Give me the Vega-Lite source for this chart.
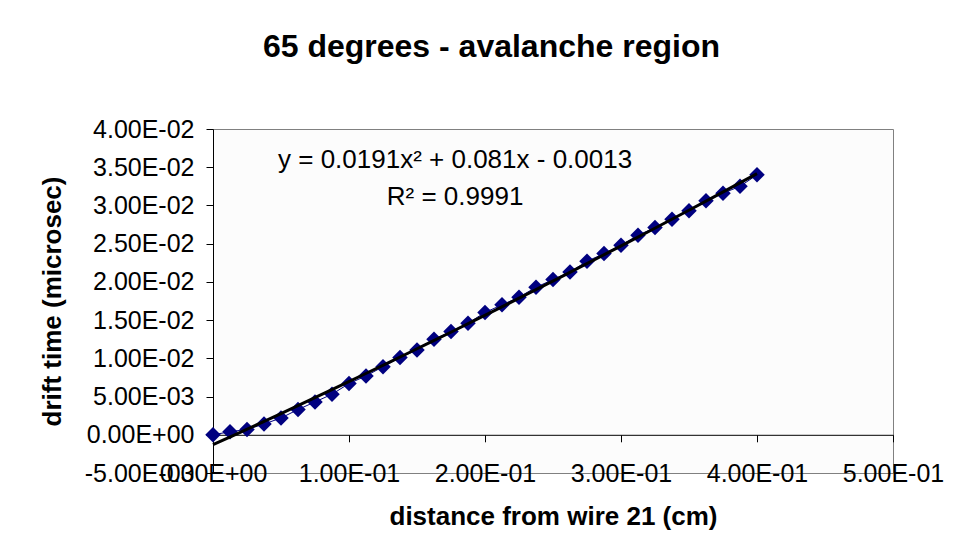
{
  "$schema": "https://vega.github.io/schema/vega-lite/v6.json",
  "autosize": "none",
  "width": 680,
  "height": 344,
  "padding": {"left": 213, "top": 129, "right": 67, "bottom": 85},
  "background": "white",
  "config": {
    "font": "Liberation Sans",
    "view": {"stroke": "#808080", "strokeWidth": 1, "fill": "#fcfcfc"},
    "axis": {
      "grid": false,
      "domainColor": "black",
      "domainWidth": 1,
      "tickColor": "black",
      "tickWidth": 1,
      "tickSize": 7,
      "labelFontSize": 25,
      "labelColor": "black",
      "labelFlush": false,
      "labelOverlap": false,
      "labelBound": false,
      "titleFontSize": 26,
      "titleFontWeight": "bold",
      "titleColor": "black"
    }
  },
  "title": {
    "text": "65 degrees - avalanche region",
    "fontSize": 32,
    "fontWeight": "bold",
    "font": "Liberation Sans",
    "color": "black",
    "anchor": "middle",
    "frame": "bounds",
    "offset": 53
  },
  "data": {
    "values": [
      {"x": 0, "y": 0},
      {"x": 0.0125, "y": 0.0004},
      {"x": 0.025, "y": 0.0007},
      {"x": 0.0375, "y": 0.0014},
      {"x": 0.05, "y": 0.0022},
      {"x": 0.0625, "y": 0.0033},
      {"x": 0.075, "y": 0.0043},
      {"x": 0.0875, "y": 0.0053},
      {"x": 0.1, "y": 0.0067},
      {"x": 0.1125, "y": 0.0077},
      {"x": 0.125, "y": 0.0089},
      {"x": 0.1375, "y": 0.0101},
      {"x": 0.15, "y": 0.0111},
      {"x": 0.1625, "y": 0.0125},
      {"x": 0.175, "y": 0.0135},
      {"x": 0.1875, "y": 0.0146},
      {"x": 0.2, "y": 0.016},
      {"x": 0.2125, "y": 0.017},
      {"x": 0.225, "y": 0.018},
      {"x": 0.2375, "y": 0.0193},
      {"x": 0.25, "y": 0.0203},
      {"x": 0.2625, "y": 0.0213},
      {"x": 0.275, "y": 0.0227},
      {"x": 0.2875, "y": 0.0237},
      {"x": 0.3, "y": 0.0248},
      {"x": 0.3125, "y": 0.0261},
      {"x": 0.325, "y": 0.0271},
      {"x": 0.3375, "y": 0.0282},
      {"x": 0.35, "y": 0.0293},
      {"x": 0.3625, "y": 0.0306},
      {"x": 0.375, "y": 0.0316},
      {"x": 0.3875, "y": 0.0325},
      {"x": 0.4, "y": 0.034}
    ]
  },
  "encoding": {
    "x": {
      "field": "x",
      "type": "quantitative",
      "scale": {"domain": [0, 0.5], "nice": false, "zero": false},
      "axis": {
        "values": [0, 0.1, 0.2, 0.3, 0.4, 0.5],
        "title": "distance from wire 21 (cm)",
        "offset": -38.2,
        "labelPadding": 20,
        "labelOverlap": false,
        "labelExpr": "replace(replace(replace(replace(format(datum.value,'.2e'),'\u2212','-'),'\u2212','-'),'e-','E-0'),'e+','E+0')",
        "titlePadding": 17
      }
    },
    "y": {
      "field": "y",
      "type": "quantitative",
      "scale": {"domain": [-0.005, 0.04], "nice": false, "zero": false},
      "axis": {
        "values": [-0.005, 0, 0.005, 0.01, 0.015, 0.02, 0.025, 0.03, 0.035, 0.04],
        "title": "drift time (microsec)",
        "labelPadding": 12,
        "labelOverlap": false,
        "labelExpr": "replace(replace(replace(replace(format(datum.value,'.2e'),'\u2212','-'),'\u2212','-'),'e-','E-0'),'e+','E+0')",
        "titlePadding": 19
      }
    }
  },
  "layer": [
    {
      "mark": {"type": "line", "color": "#000080", "strokeWidth": 1}
    },
    {
      "mark": {"type": "point", "shape": "diamond", "filled": true, "color": "#000080", "size": 240, "opacity": 1}
    },
    {
      "transform": [{"regression": "y", "on": "x", "method": "poly", "order": 2}],
      "mark": {"type": "line", "color": "black", "strokeWidth": 3}
    },
    {
      "data": {"values": [
        {"label": "y = 0.0191x² + 0.081x - 0.0013", "x": 0.178, "y": 0.036},
        {"label": "R² = 0.9991", "x": 0.178, "y": 0.0311}
      ]},
      "mark": {"type": "text", "fontSize": 26, "color": "black", "align": "center", "baseline": "middle"},
      "encoding": {
        "text": {"field": "label"}
      }
    }
  ]
}
